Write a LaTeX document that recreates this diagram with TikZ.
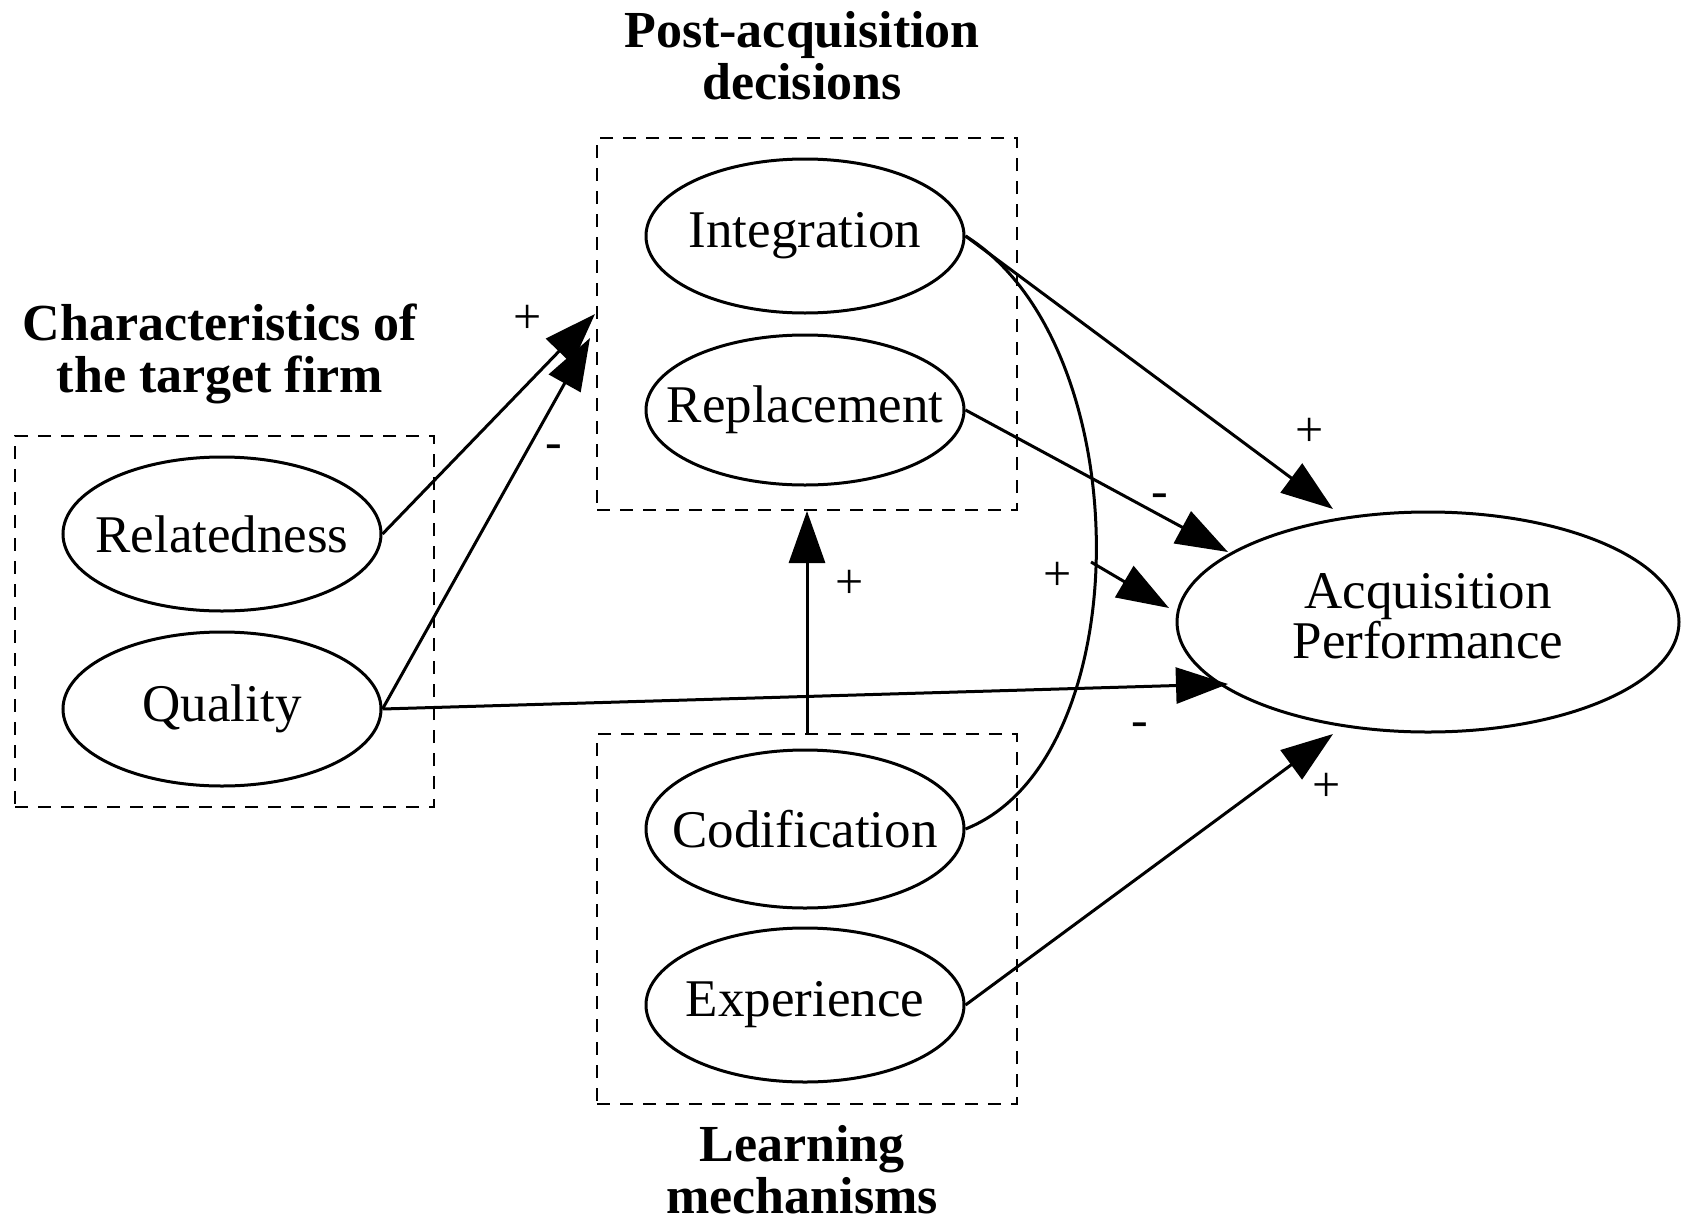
\documentclass[tikz,border=0pt]{standalone}
\usepackage{fontspec}
\setmainfont{Liberation Serif}
\usetikzlibrary{shapes.geometric,arrows.meta}
\begin{document}
\begin{tikzpicture}[x=1pt,y=-1pt,
  oval/.style={draw,ellipse,line width=3pt,minimum width=318pt,minimum height=154pt,inner sep=0pt,font=\fontsize{53}{58}\selectfont},
  grp/.style={draw,dashed,line width=2pt,dash pattern=on 13pt off 10pt},
  ttl/.style={font=\fontsize{52}{52}\selectfont\bfseries,align=center,inner sep=0pt},
  sgn/.style={font=\fontsize{50}{56}\selectfont},
  arr/.style={line width=3pt,-{Triangle[length=52pt,width=36pt]}}]
\useasboundingbox (0,0) rectangle (1681,1226);
% group boxes
\node[grp,minimum width=420pt,minimum height=372pt,inner sep=0pt] (topbox) at (807,324) {};
\node[grp,minimum width=419pt,minimum height=371pt,inner sep=0pt] (leftbox) at (224.5,621.5) {};
\node[grp,minimum width=420pt,minimum height=370pt,inner sep=0pt] (botbox) at (807,919) {};
% titles
\node[ttl] (ttop) at (802,56) {Post-acquisition\\decisions};
\node[ttl] (tleft) at (220,354) {Characteristics of\\the target firm};
\node[ttl,anchor=south] (tbot) at (802,1214) {Learning\\mechanisms};
% ellipses
\node[oval] (int) at (805,236) {\makebox[0pt]{Integration}};
\node[oval,minimum height=150pt] (rep) at (805,410) {\makebox[0pt]{Replacement}};
\node[oval] (rel) at (222,534) {\makebox[0pt]{Relatedness}};
\node[oval] (qua) at (222,709) {\makebox[0pt]{Quality}};
\node[oval,minimum height=158pt] (cod) at (805,829) {\makebox[0pt]{Codification}};
\node[oval] (exp) at (805,1005) {\makebox[0pt]{Experience}};
\node[oval,minimum width=502pt,minimum height=220pt] (ap) at (1428,622) {\makebox[0pt]{\begin{tabular}{@{}c@{}}Acquisition\\[-8pt]Performance\end{tabular}}};
% arrow tips
\coordinate (t1) at (595,314);
\coordinate (t2) at (590,338);
\coordinate (t3) at (1228,684);
\coordinate (t4) at (1333,509);
\coordinate (t5) at (1228,552);
\coordinate (t6) at (1169,608);
\coordinate (t7) at (1333,734);
\coordinate (s6) at (1091,562);
% connectors
\draw[arr] (rel.east) -- (t1);
\draw[arr] (qua.east) -- (t2);
\draw[arr] (qua.east) -- (t3);
\draw[arr] (int.east) -- (t4);
\draw[arr] (rep.east) -- (t5);
\draw[line width=3pt] (cod.east) .. controls (1140,760) and (1140,345) .. (int.east);
\draw[arr] (s6) -- (t6);
\draw[arr] (exp.east) -- (t7);
\draw[arr] (botbox.north) -- (topbox.south);
% signs
\node[sgn] (p1) at (528,319) {+};
\node[sgn] (m1) at (554,452) {-};
\node[sgn] (p2) at (1310,432) {+};
\node[sgn] (m2) at (1160,501) {-};
\node[sgn] (p3) at (1058,576) {+};
\node[sgn] (p4) at (850,584) {+};
\node[sgn] (m3) at (1140,730) {-};
\node[sgn] (p5) at (1327,787) {+};
\end{tikzpicture}
\end{document}
